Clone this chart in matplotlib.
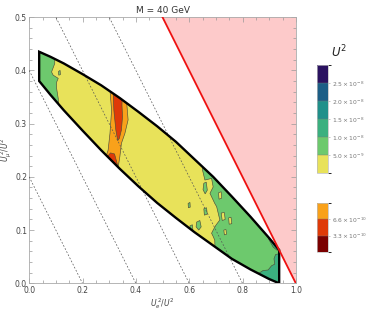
import numpy as np
import matplotlib
matplotlib.use("Agg")
import matplotlib.pyplot as plt
from matplotlib.patches import Polygon
from matplotlib.colors import ListedColormap, BoundaryNorm
from matplotlib.colorbar import ColorbarBase

# lens shaped allowed region
upper_x = [0.0375, 0.08, 0.13, 0.2, 0.27, 0.34, 0.41, 0.48, 0.55, 0.62, 0.69, 0.76, 0.83, 0.9, 0.9375]
upper_y = [0.435, 0.4255, 0.413, 0.393, 0.372, 0.348, 0.322, 0.295, 0.266, 0.233, 0.2, 0.163, 0.125, 0.085, 0.0625]
lower_x = [0.9375, 0.9, 0.83, 0.76, 0.69, 0.62, 0.55, 0.48, 0.41, 0.34, 0.27, 0.2, 0.13, 0.08, 0.0375]
lower_y = [0.0, 0.008, 0.026, 0.046, 0.071, 0.096, 0.123, 0.151, 0.182, 0.215, 0.25, 0.287, 0.325, 0.354, 0.38]

# contour regions (x list, y list)
green_left_x = [0.0, 0.093, 0.096, 0.084, 0.09, 0.109, 0.103, 0.103, 0.109, 0.112, 0.0]
green_left_y = [0.5, 0.5, 0.413, 0.397, 0.391, 0.385, 0.378, 0.366, 0.347, 0.30, 0.30]

green_right_x = [0.64, 0.65, 0.659, 0.684, 0.69, 0.678, 0.696, 0.703, 0.715, 0.70, 0.69, 0.684, 0.69, 0.696, 0.70, 1.0, 1.0]
green_right_y = [0.30, 0.2127, 0.194, 0.197, 0.181, 0.169, 0.15, 0.144, 0.119, 0.109, 0.10, 0.094, 0.088, 0.081, 0.0, 0.0, 0.30]

green_blobs = [
    ([0.655, 0.664, 0.668, 0.66, 0.652], [0.188, 0.19, 0.175, 0.168, 0.176]),
    ([0.628, 0.64, 0.645, 0.636, 0.626], [0.115, 0.118, 0.106, 0.1, 0.106]),
    ([0.603, 0.612, 0.614, 0.604], [0.108, 0.11, 0.1, 0.099]),
    ([0.655, 0.665, 0.668, 0.657], [0.14, 0.142, 0.13, 0.128]),
    ([0.596, 0.603, 0.604, 0.597], [0.15, 0.152, 0.143, 0.142]),
    ([0.11, 0.116, 0.117, 0.111], [0.398, 0.4, 0.392, 0.391]),
]
yellow_blobs = [
    ([0.72, 0.732, 0.735, 0.724], [0.132, 0.133, 0.12, 0.118]),
    ([0.748, 0.757, 0.76, 0.75], [0.123, 0.124, 0.112, 0.111]),
    ([0.71, 0.72, 0.722, 0.712], [0.17, 0.172, 0.16, 0.158]),
    ([0.73, 0.738, 0.74, 0.732], [0.1, 0.101, 0.092, 0.091]),
]

dark_bottom_x = [0.80, 0.809, 0.828, 0.853, 0.877, 0.896, 0.909, 0.921, 0.918, 0.924, 0.94, 0.95, 0.80]
dark_bottom_y = [0.0, 0.012, 0.02, 0.016, 0.024, 0.025, 0.033, 0.036, 0.046, 0.054, 0.056, 0.0, 0.0]
dark_edge_x = [0.88, 0.898, 0.915, 0.93, 0.945, 0.945]
dark_edge_y = [0.12, 0.083, 0.068, 0.062, 0.066, 0.12]

orange_x = [0.298, 0.303, 0.309, 0.303, 0.296, 0.2876, 0.28, 0.33, 0.334, 0.34, 0.346, 0.359, 0.371, 0.365, 0.37]
orange_y = [0.40, 0.363, 0.325, 0.2816, 0.25, 0.2377, 0.20, 0.20, 0.219, 0.2377, 0.263, 0.2816, 0.307, 0.344, 0.40]
red_x = [0.312, 0.315, 0.3176, 0.325, 0.332, 0.338, 0.346, 0.35, 0.348, 0.352]
red_y = [0.40, 0.36, 0.325, 0.288, 0.268, 0.272, 0.288, 0.313, 0.335, 0.40]
red_low_x = [0.28, 0.29, 0.305, 0.32, 0.33, 0.336]
red_low_y = [0.20, 0.236, 0.245, 0.243, 0.225, 0.20]

dash_levels = [0.2, 0.4, 0.6, 0.8]

# colour bars
top_bounds = [0, 5e-9, 1e-8, 1.5e-8, 2e-8, 2.5e-8, 3e-8]
top_colors = ["#e8e25a", "#6dc96d", "#3bb07f", "#20908a", "#1c5e86", "#2a1260"]
top_ticks = [5e-9, 1e-8, 1.5e-8, 2e-8, 2.5e-8]
top_labels = [r"$5.0\times10^{-9}$", r"$1.0\times10^{-8}$", r"$1.5\times10^{-8}$",
              r"$2.0\times10^{-8}$", r"$2.5\times10^{-8}$"]
low_bounds = [0, 3.3e-10, 6.6e-10, 1e-9]
low_colors = ["#7b0000", "#df3a08", "#f9a11a"]
low_ticks = [3.3e-10, 6.6e-10]
low_labels = [r"$3.3\times10^{-10}$", r"$6.6\times10^{-10}$"]

YELLOW = "#e8e25a"
GREEN = "#6dc96d"
DARKGREEN = "#3bb07f"
EDGE = "#4d4d3a"


def region(ax, xs, ys, color, clip):
    p = Polygon(np.column_stack([xs, ys]), closed=True, facecolor=color,
                edgecolor=EDGE, lw=0.45, zorder=2)
    ax.add_patch(p)
    p.set_clip_path(clip)


def colorbar(fig, rect, bounds, colors, ticks, labels):
    cax = fig.add_axes(rect)
    cmap = ListedColormap(colors)
    norm = BoundaryNorm(bounds, cmap.N)
    cb = ColorbarBase(cax, cmap=cmap, norm=norm, boundaries=bounds, ticks=ticks,
                      drawedges=True)
    cb.dividers.set_color("#777777")
    cb.dividers.set_linewidth(0.3)
    cb.outline.set_edgecolor("#bbbbbb")
    cb.outline.set_linewidth(0.5)
    cb.set_ticklabels(labels)
    cax.tick_params(length=1.5, width=0.4, color="#999999", labelsize=4.3,
                    labelcolor="#777777", pad=1.5)
    return cb


def main():
    fig = plt.figure(figsize=(3.74, 3.12), dpi=100)
    ax = fig.add_axes([0.078, 0.092, 0.713, 0.853])
    ax.set_xlim(0, 1)
    ax.set_ylim(0, 0.5)

    # excluded region
    ax.fill([0.5, 1.0, 1.0], [0.5, 0.5, 0.0], color="#fdcaca", lw=0, zorder=1)
    ax.plot([0.5, 1.0], [0.5, 0.0], color="#ee1111", lw=1.3, zorder=5)

    lens_x = upper_x + lower_x
    lens_y = upper_y + lower_y
    lens = Polygon(np.column_stack([lens_x, lens_y]), closed=True,
                   facecolor=YELLOW, edgecolor="none", zorder=1.5)
    ax.add_patch(lens)

    region(ax, green_left_x, green_left_y, GREEN, lens)
    region(ax, green_right_x, green_right_y, GREEN, lens)
    for bx, by in green_blobs:
        region(ax, bx, by, GREEN, lens)
    for bx, by in yellow_blobs:
        region(ax, bx, by, YELLOW, lens)
    region(ax, dark_bottom_x, dark_bottom_y, DARKGREEN, lens)
    region(ax, dark_edge_x, dark_edge_y, DARKGREEN, lens)
    region(ax, orange_x, orange_y, "#f9a11a", lens)
    region(ax, red_x, red_y, "#df3a08", lens)
    region(ax, red_low_x, red_low_y, "#df3a08", lens)

    for c in dash_levels:
        ax.plot([0, c], [c, 0], color="#555555", lw=0.5, ls=(0, (2.5, 2.5)), zorder=3)

    outline = Polygon(np.column_stack([lens_x, lens_y]), closed=True,
                      facecolor="none", edgecolor="black", lw=1.7, zorder=4)
    ax.add_patch(outline)

    ax.set_xticks([0.0, 0.2, 0.4, 0.6, 0.8, 1.0])
    ax.set_yticks([0.0, 0.1, 0.2, 0.3, 0.4, 0.5])
    ax.set_xticks(np.arange(0, 1.001, 0.05), minor=True)
    ax.set_yticks(np.arange(0, 0.501, 0.02), minor=True)
    ax.set_xticklabels(["0.0", "0.2", "0.4", "0.6", "0.8", "1.0"])
    ax.set_yticklabels(["0.0", "0.1", "0.2", "0.3", "0.4", "0.5"])
    ax.tick_params(which="both", direction="in", top=True, right=True,
                   color="#999999", width=0.5, labelsize=5.5, labelcolor="#444444")
    ax.tick_params(axis="x", pad=2)
    ax.tick_params(axis="y", pad=1.5)
    ax.tick_params(which="major", length=3.5)
    ax.tick_params(which="minor", length=2)
    for s in ax.spines.values():
        s.set_color("#aaaaaa")
        s.set_linewidth(0.6)

    ax.set_title("M = 40 GeV", fontsize=6.5, color="#333333", pad=3)
    ax.set_xlabel(r"$U_e^{\,2}/U^2$", fontsize=5.5, color="#444444", labelpad=1)
    ax.set_ylabel(r"$U_\mu^{\,2}/U^2$", fontsize=5.5, color="#444444", labelpad=0.5)

    colorbar(fig, [0.8476, 0.4455, 0.0294, 0.346], top_bounds, top_colors, top_ticks, top_labels)
    colorbar(fig, [0.8476, 0.1923, 0.0294, 0.157], low_bounds, low_colors, low_ticks, low_labels)
    fig.text(0.905, 0.833, r"$U^2$", fontsize=8.5, color="#222222", ha="center", va="center")

    fig.savefig("out.png", dpi=100)


if __name__ == '__main__':
    main()
